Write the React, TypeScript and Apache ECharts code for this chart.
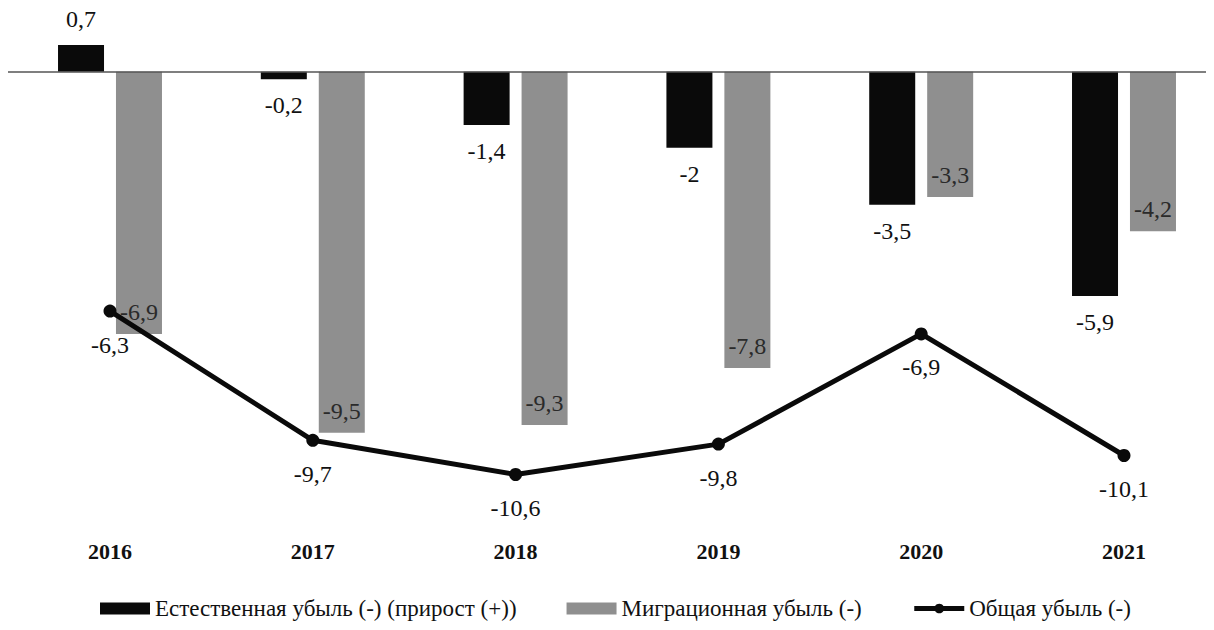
import React, { useEffect, useRef } from "react";
import * as echarts from "echarts";

const years = ["2016", "2017", "2018", "2019", "2020", "2021"];
const naturalLoss = [0.7, -0.2, -1.4, -2, -3.5, -5.9];
const migrationLoss = [-6.9, -9.5, -9.3, -7.8, -3.3, -4.2];
const totalLoss = [-6.3, -9.7, -10.6, -9.8, -6.9, -10.1];

const fmt = (v: number) => String(v).replace(".", ",");
const FONT = "'Liberation Serif', 'Times New Roman', serif";

export default function App() {
  const ref = useRef<HTMLDivElement>(null);
  useEffect(() => {
    if (!ref.current) return;
    const chart = echarts.init(ref.current, null, { renderer: "svg" });
    chart.setOption({
      animation: false,
      textStyle: { fontFamily: FONT },
      grid: { left: 110, right: 90, top: 33.7, height: 456, containLabel: false },
      legend: {
        top: 592,
        left: 95,
        itemWidth: 50,
        itemHeight: 12,
        itemGap: 50,
        itemTextGap: 4,
        textStyle: { fontFamily: FONT, fontSize: 23, color: "#111" },
        data: [
          { name: "Естественная убыль (-) (прирост (+))", icon: "rect" },
          { name: "Миграционная убыль (-)", icon: "rect" },
          {
            name: "Общая убыль (-)",
            lineStyle: { width: 5, color: "#0a0a0a" },
            itemStyle: { color: "#0a0a0a" },
          },
        ],
      },
      xAxis: {
        type: "category",
        data: years,
        boundaryGap: false,
        axisLine: { show: false },
        axisTick: { show: false },
        axisLabel: {
          fontFamily: FONT,
          fontSize: 22,
          fontWeight: "bold",
          color: "#111",
          margin: 51,
        },
      },
      yAxis: {
        type: "value",
        min: -11,
        max: 1,
        show: false,
        splitLine: { show: false },
      },
      series: [
        {
          name: "Естественная убыль (-) (прирост (+))",
          type: "bar",
          data: naturalLoss.map((v) => ({
            value: v,
            label: { position: v > 0 ? "top" : "bottom" },
          })),
          barWidth: 46,
          barGap: "26%",
          clip: false,
          itemStyle: { color: "#0a0a0a" },
          label: {
            show: true,
            distance: 14,
            fontFamily: FONT,
            fontSize: 24,
            color: "#111",
            formatter: (p: any) => fmt(p.value),
          },
          markLine: {
            silent: true,
            symbol: "none",
            label: { show: false },
            lineStyle: { color: "#555", width: 1.5, type: "solid" },
            data: [
              [
                { x: 8, yAxis: 0 },
                { x: 1214, yAxis: 0 },
              ],
            ],
          },
        },
        {
          name: "Миграционная убыль (-)",
          type: "bar",
          data: migrationLoss,
          barWidth: 46,
          barGap: "26%",
          clip: false,
          itemStyle: { color: "#8f8f8f" },
          label: {
            show: true,
            position: "insideBottom",
            distance: 10,
            fontFamily: FONT,
            fontSize: 24,
            color: "#2a2a2a",
            formatter: (p: any) => fmt(p.value),
          },
        },
        {
          name: "Общая убыль (-)",
          type: "line",
          data: totalLoss,
          symbol: "circle",
          symbolSize: 13,
          clip: false,
          z: 5,
          lineStyle: { color: "#0a0a0a", width: 5 },
          itemStyle: { color: "#0a0a0a" },
          label: {
            show: true,
            position: "bottom",
            distance: 15,
            fontFamily: FONT,
            fontSize: 24,
            color: "#111",
            formatter: (p: any) => fmt(p.value),
          },
        },
      ],
    });
    return () => chart.dispose();
  }, []);
  return <div ref={ref} style={{ width: 1214, height: 630, margin: -8 }} />;
}
